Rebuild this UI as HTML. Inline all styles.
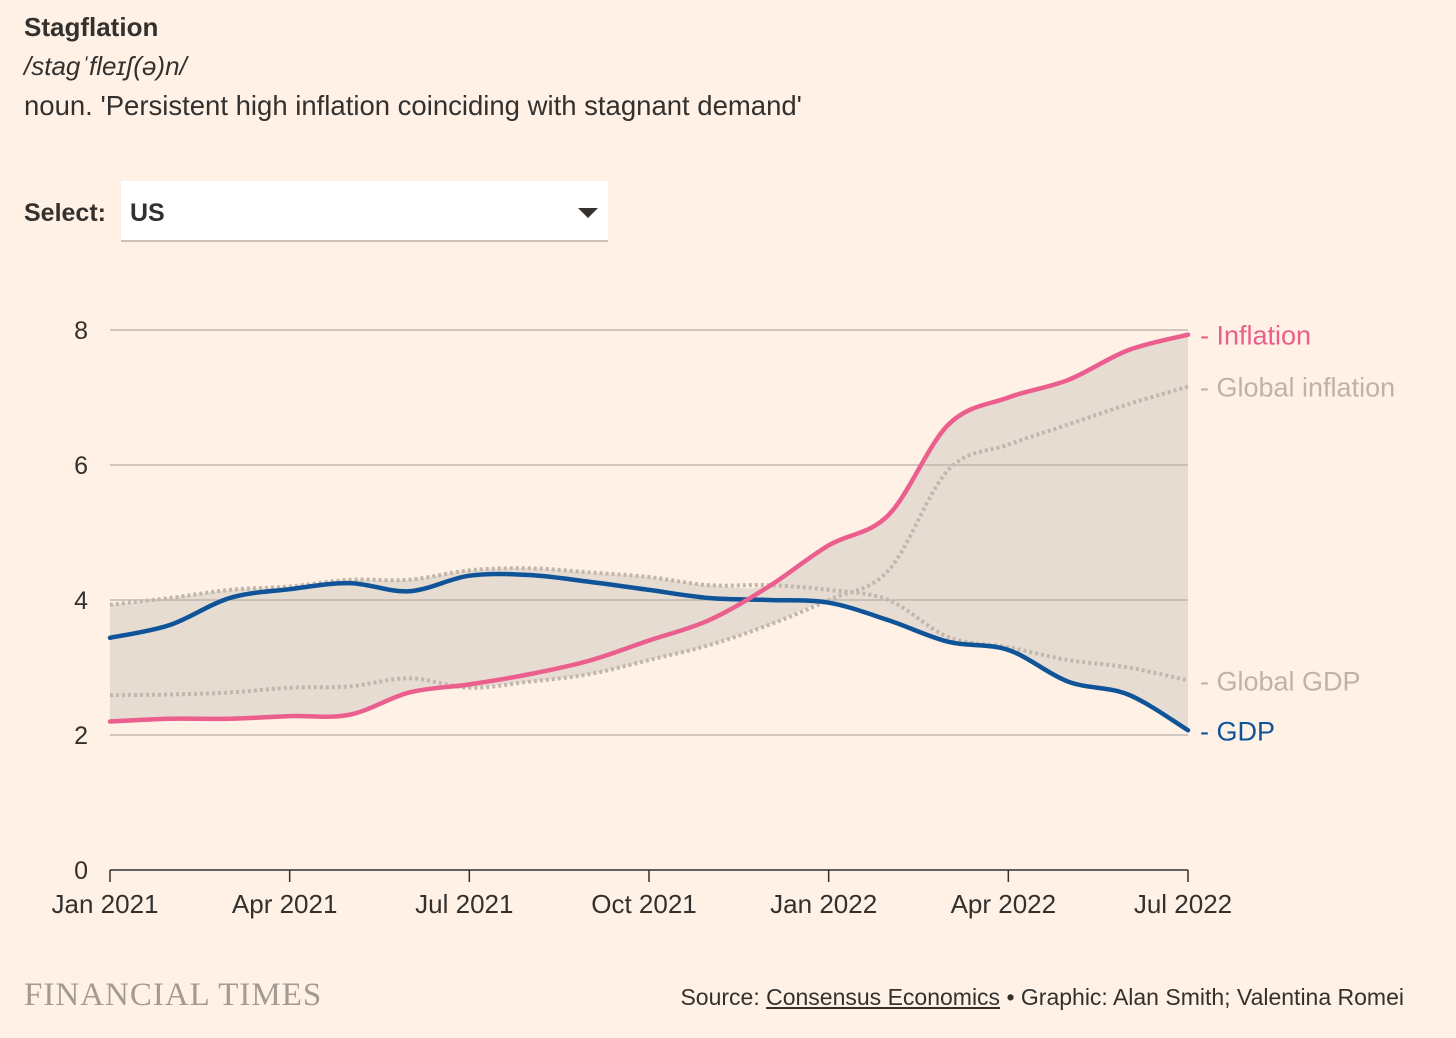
<!DOCTYPE html>
<html><head><meta charset="utf-8"><style>
body{margin:0;background:#fff1e5;font-family:"Liberation Sans",sans-serif;color:#33302e}
#wrap{position:relative;width:1456px;height:1038px;overflow:hidden}
.t{position:absolute;white-space:nowrap}
</style></head><body>
<div id="wrap">
<div class="t" style="left:24px;top:12px;font-size:26px;font-weight:bold;color:#33302e">Stagflation</div>
<div class="t" style="left:24px;top:51px;font-size:26px;font-style:italic">/stagˈfleɪʃ(ə)n/</div>
<div class="t" style="left:24px;top:90px;font-size:27.5px">noun. 'Persistent high inflation coinciding with stagnant demand'</div>
<div class="t" style="left:24px;top:199px;font-size:25px;font-weight:bold">Select:</div>
<div class="t" style="left:121px;top:181px;width:487px;height:61px;background:#fff;border-bottom:2px solid #ccc1b7;box-sizing:border-box">
<span style="position:absolute;left:9px;top:18px;font-size:25px;font-weight:bold">US</span>
<span style="position:absolute;right:10px;top:27px;width:0;height:0;border-left:10px solid transparent;border-right:10px solid transparent;border-top:10px solid #33302e"></span>
</div>
<svg id="chart" width="1456" height="1038" style="position:absolute;left:0;top:0"></svg>
<div class="t" style="left:24px;top:977px;font-size:33px;font-family:'Liberation Serif',serif;color:#a39a92;letter-spacing:1px">FINANCIAL TIMES</div>
<div class="t" style="right:52px;top:984px;font-size:23px">Source: <u>Consensus Economics</u> • Graphic: Alan Smith; Valentina Romei</div>
</div>
<script>
const months=["Jan 2021","Feb","Mar","Apr 2021","May","Jun","Jul 2021","Aug","Sep","Oct 2021","Nov","Dec","Jan 2022","Feb","Mar","Apr 2022","May","Jun","Jul 2022"];
const tickIdx=[0,3,6,9,12,15,18];
const yTicks=[0,2,4,6,8];
const inflation=[2.2,2.24,2.24,2.28,2.3,2.63,2.75,2.9,3.1,3.4,3.7,4.2,4.81,5.26,6.6,7.0,7.26,7.7,7.93];
const gdp=[3.44,3.63,4.03,4.16,4.25,4.13,4.36,4.37,4.27,4.15,4.03,4.0,3.96,3.7,3.38,3.26,2.79,2.6,2.07];
const globalInflation=[2.59,2.6,2.63,2.7,2.72,2.84,2.7,2.79,2.9,3.11,3.33,3.63,4.0,4.44,5.93,6.3,6.6,6.9,7.16];
const globalGdp=[3.93,4.03,4.15,4.2,4.3,4.3,4.44,4.47,4.41,4.34,4.22,4.22,4.15,4.0,3.45,3.3,3.11,3.0,2.81];
const svg=document.getElementById('chart');const NS='http://www.w3.org/2000/svg';
const xS=i=>110+i*(1188-110)/18, yS=v=>870-v*67.5;
function mk(tag,attrs){const e=document.createElementNS(NS,tag);for(const k in attrs)e.setAttribute(k,attrs[k]);svg.appendChild(e);return e;}
function path(pts){let d=`M${pts[0][0]},${pts[0][1]}`;for(let i=0;i<pts.length-1;i++){const p0=pts[i-1]||pts[i],p1=pts[i],p2=pts[i+1],p3=pts[i+2]||p2;const c1=[p1[0]+(p2[0]-p0[0])/6,p1[1]+(p2[1]-p0[1])/6],c2=[p2[0]-(p3[0]-p1[0])/6,p2[1]-(p3[1]-p1[1])/6];d+=`C${c1[0]},${c1[1]} ${c2[0]},${c2[1]} ${p2[0]},${p2[1]}`;}return d;}
const allSeries=[inflation,gdp,globalInflation,globalGdp];
const topPts=months.map((m,i)=>[xS(i),yS(Math.max(...allSeries.map(a=>a[i])))]);
const botPts=months.map((m,i)=>[xS(i),yS(Math.min(...allSeries.map(a=>a[i])))]);
const area=mk('path',{d:path(topPts)+'L'+path(botPts.slice().reverse()).slice(1)+'Z',fill:'#e6dcd2'});


yTicks.forEach(v=>{if(v>0){const l=mk('line',{x1:110,x2:1188,y1:yS(v),y2:yS(v),stroke:'#b8aea6','stroke-width':1.3});

}
const t=mk('text',{x:88,y:yS(v)+9,'text-anchor':'end','font-size':25,fill:'#33302e'});t.textContent=v;

});
const ax=mk('line',{x1:110,x2:1188,y1:870,y2:870,stroke:'#33302e','stroke-width':1.5});


tickIdx.forEach(i=>{const tk=mk('line',{x1:xS(i),x2:xS(i),y1:870,y2:882,stroke:'#33302e','stroke-width':1.5});


const t=mk('text',{x:xS(i)-5,y:913,'text-anchor':'middle','font-size':26,fill:'#33302e'});t.textContent=months[i];

});
function series(vals,col,w,dash,name){const p=mk('path',{d:path(vals.map((v,i)=>[xS(i),yS(v)])),fill:'none',stroke:col,'stroke-width':w,'stroke-dasharray':dash||'none','stroke-linecap':dash?'butt':'round'});

}
series(globalGdp,'#c2b7ad',4,'3 3','global-gdp-line');
series(globalInflation,'#c2b7ad',4,'3 3','global-inflation-line');
series(gdp,'#0f5499',4.5,null,'gdp-line');
series(inflation,'#eb5e8d',4.5,null,'inflation-line');
function lab(txt,v,col,name){const t=mk('text',{x:1200,y:yS(v)+10,'font-size':27,fill:col});t.textContent='- '+txt;

}
lab('Inflation',inflation[18],'#eb5e8d','inflation-label');
lab('Global inflation',globalInflation[18],'#bdb3aa','global-inflation-label');
lab('Global GDP',globalGdp[18],'#bdb3aa','global-gdp-label');
lab('GDP',gdp[18],'#0f5499','gdp-label');
</script>
</body></html>
